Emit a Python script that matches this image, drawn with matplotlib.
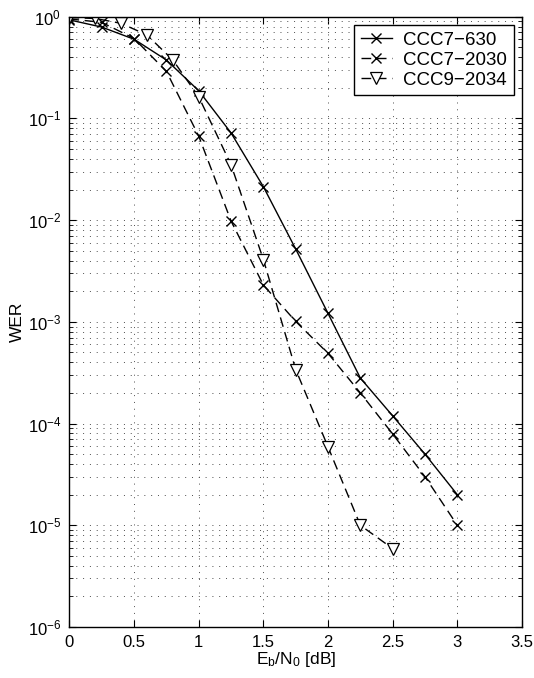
import numpy as np
import matplotlib
matplotlib.use("Agg")
import matplotlib.pyplot as plt

plt.rcParams["font.family"] = ["Liberation Sans", "DejaVu Sans"]
plt.rcParams["mathtext.fontset"] = "custom"
plt.rcParams["mathtext.rm"] = "Liberation Sans"
plt.rcParams["mathtext.it"] = "Liberation Sans"

# WER vs Eb/N0
ebn0_630 = [0, 0.25, 0.5, 0.75, 1.0, 1.25, 1.5, 1.75, 2.0, 2.25, 2.5, 2.75, 3.0]
wer_630 = [0.93, 0.79, 0.60, 0.375, 0.187, 0.072, 0.0213, 0.0052, 0.00121,
           2.8e-4, 1.19e-4, 5.0e-5, 2.0e-5]

ebn0_2030 = [0, 0.25, 0.5, 0.75, 1.0, 1.25, 1.5, 1.75, 2.0, 2.25, 2.5, 2.75, 3.0]
wer_2030 = [0.95, 0.88, 0.61, 0.29, 0.067, 0.0098, 0.0023, 0.00101, 4.9e-4,
            2.0e-4, 7.9e-5, 3.0e-5, 1.0e-5]

ebn0_2034 = [0, 0.2, 0.4, 0.6, 0.8, 1.0, 1.25, 1.5, 1.75, 2.0, 2.25, 2.5]
wer_2034 = [0.98, 0.96, 0.86, 0.66, 0.375, 0.163, 0.035, 0.0041, 3.4e-4,
            5.9e-5, 1.0e-5, 5.9e-6]

labels = ["CCC7\u2212630", "CCC7\u22122030", "CCC9\u22122034"]
x_ticks = [0, 0.5, 1, 1.5, 2, 2.5, 3, 3.5]
x_ticklabels = ["0", "0.5", "1", "1.5", "2", "2.5", "3", "3.5"]
y_exps = [-6, -5, -4, -3, -2, -1, 0]

fig = plt.figure(figsize=(5.34, 6.78), dpi=100)
ax = fig.add_axes([0.130, 0.0752, 0.8475, 0.9002])

dash = (0, (7, 4))
ax.semilogy(ebn0_630, wer_630, "k-", marker="x", ms=6.5, mew=1.0, lw=1.0, label=labels[0])
ax.semilogy(ebn0_2030, wer_2030, "k", ls=dash, marker="x", ms=6.5, mew=1.0, lw=1.0,
            label=labels[1])
ax.semilogy(ebn0_2034, wer_2034, "k", ls=dash, marker="v", ms=8, mfc="white",
            mew=0.9, lw=1.0, label=labels[2])

ax.set_xlim(0, 3.5)
ax.set_ylim(1e-6, 1)
ax.set_xticks(x_ticks)
ax.set_xticklabels(x_ticklabels)
ax.set_yticks([10.0 ** e for e in y_exps])
ax.set_yticklabels([r"$10^{%d}$" % e for e in y_exps])
minor = [m * 10.0 ** e for e in y_exps[:-1] for m in range(2, 10)]
ax.set_yticks(minor, minor=True)
ax.set_yticklabels([], minor=True)

grid_ls = (0, (1, 6))
ax.grid(True, which="major", ls=grid_ls, color="0.3", lw=0.7)
ax.grid(True, which="minor", axis="y", ls=grid_ls, color="0.3", lw=0.7)
ax.tick_params(which="both", direction="in", top=True, right=True, labelsize=12)
ax.tick_params(which="major", length=5, pad=6)
ax.tick_params(which="minor", length=3)
for s in ax.spines.values():
    s.set_linewidth(1.0)

ax.set_xlabel(r"E$_\mathrm{b}$/N$_\mathrm{0}$ [dB]", fontsize=12.5, labelpad=0)
ax.set_ylabel("WER", fontsize=12.5, labelpad=2)

leg = ax.legend(loc="upper right", fontsize=13.5, fancybox=False, framealpha=1,
                edgecolor="k", handlelength=1.65, handletextpad=0.6,
                labelspacing=0.15, borderpad=0.35, borderaxespad=0.45)
leg.get_frame().set_linewidth(1.0)

fig.savefig("out.png", dpi=100)
